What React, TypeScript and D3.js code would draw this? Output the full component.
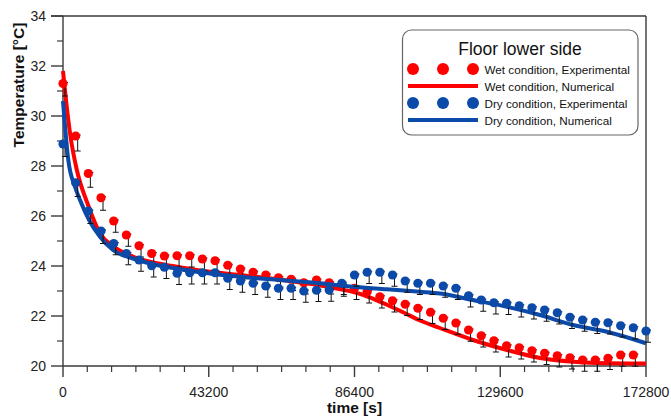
import React from "react";
import * as d3 from "d3";

// time stamps of the experimental readings [s]
const expTimes = [
  0, 3757, 7513, 11270, 15026, 18783, 22539, 26296, 30052, 33809, 37565, 41322,
  45078, 48835, 52591, 56348, 60104, 63861, 67617, 71374, 75130, 78887, 82643,
  86400, 90157, 93913, 97670, 101426, 105183, 108939, 112696, 116452, 120209,
  123965, 127722, 131478, 135235, 138991, 142748, 146504, 150261, 154017,
  157774, 161530, 165287, 169043, 172800,
];

// Wet condition, experimental [°C]
const wetExp = [
  31.3, 29.2, 27.7, 26.73, 25.8, 25.24, 24.81, 24.5, 24.4, 24.41, 24.41, 24.28,
  24.21, 24.03, 23.88, 23.75, 23.64, 23.53, 23.47, 23.33, 23.44, 23.33, 23.24,
  23.11, 22.97, 22.77, 22.61, 22.47, 22.31, 22.15, 21.91, 21.72, 21.44, 21.21,
  21.01, 20.81, 20.73, 20.61, 20.51, 20.41, 20.33, 20.24, 20.24, 20.31, 20.44,
  20.44,
];

// Dry condition, experimental [°C]
const dryExp = [
  28.88, 27.33, 26.2, 25.4, 24.9, 24.5, 24.24, 24.01, 23.95, 23.71, 23.73,
  23.73, 23.73, 23.51, 23.4, 23.31, 23.2, 23.11, 23.11, 23.0, 23.03, 23.04,
  23.31, 23.64, 23.75, 23.75, 23.64, 23.4, 23.31, 23.31, 23.2, 23.11, 22.81,
  22.64, 22.53, 22.51, 22.41, 22.33, 22.24, 22.13, 21.95, 21.84, 21.75, 21.73,
  21.61, 21.53, 21.4,
];

// downward extent of the error bars [°C]
const wetErr = [
  0.5, 0.6, 0.55, 0.5, 0.45, 0.45, 0.45, 0.45, 0.45, 0.45, 0.45, 0.45, 0.45,
  0.45, 0.45, 0.45, 0.45, 0.45, 0.45, 0.45, 0.45, 0.45, 0.45, 0.45, 0.45, 0.45,
  0.45, 0.45, 0.45, 0.45, 0.45, 0.45, 0.45, 0.45, 0.45, 0.45, 0.45, 0.45, 0.45,
  0.45, 0.45, 0.45, 0.45, 0.45, 0.45, 0.45,
];
const dryErr = [
  0.5, 0.55, 0.5, 0.5, 0.45, 0.45, 0.45, 0.45, 0.45, 0.45, 0.45, 0.45, 0.45,
  0.45, 0.45, 0.45, 0.45, 0.45, 0.45, 0.45, 0.45, 0.45, 0.45, 0.45, 0.45, 0.45,
  0.45, 0.45, 0.45, 0.45, 0.45, 0.45, 0.45, 0.45, 0.45, 0.45, 0.45, 0.45, 0.45,
  0.45, 0.45, 0.45, 0.45, 0.45, 0.45, 0.45, 0.45,
];

// Numerical curves: time [s], temperature [°C]
const wetNumT = [
  0, 600, 2200, 4000, 7400, 11000, 14800, 20700, 25800, 32600, 40600, 52500,
  64300, 76200, 88900, 96000, 100800, 105800, 111700, 121500, 131600, 141400,
  151200, 161200, 172800,
];
const wetNumV = [
  31.8, 31.0, 29.2, 27.9, 26.45, 25.3, 24.8, 24.38, 24.17, 24.0, 23.82, 23.64,
  23.45, 23.22, 22.85, 22.45, 22.15, 21.82, 21.52, 21.04, 20.64, 20.32, 20.17,
  20.11, 20.1,
];
const dryNumT = [
  0, 1570, 3557, 5039, 7724, 10967, 14820, 20748, 25787, 33400, 40607, 52463,
  64300, 76175, 85956, 95944, 105814, 111742, 121523, 131600, 141381, 151162,
  161240, 172800,
];
const dryNumV = [
  30.6, 28.24, 27.17, 26.64, 25.84, 25.17, 24.64, 24.3, 24.1, 23.9, 23.75,
  23.57, 23.44, 23.31, 23.17, 23.07, 22.97, 22.9, 22.64, 22.37, 22.04, 21.64,
  21.37, 20.91,
];

const xMajor = [0, 43200, 86400, 129600, 172800];
const xTickLabels = ["0", "43200", "86400", "129600", "172800"];
const yMajor = [20, 22, 24, 26, 28, 30, 32, 34];
const yTickLabels = ["20", "22", "24", "26", "28", "30", "32", "34"];

const legendTitle = "Floor lower side";
const legendLabels = [
  "Wet condition, Experimental",
  "Wet condition, Numerical",
  "Dry condition, Experimental",
  "Dry condition, Numerical",
];

const RED = "#ff0000";
const BLUE = "#0b4aa8";
const AXIS = "#3a3a3a";
const FONT = "'Liberation Sans', Arial, sans-serif";

export default function App() {
  const x = d3.scaleLinear().domain([0, 172800]).range([63, 646]);
  const y = d3.scaleLinear().domain([20, 34]).range([366, 16]);

  const xMinor = d3.range(0, 172801, 7200).filter((v) => !xMajor.includes(v));
  const yMinor = d3.range(21, 34, 2);

  const line = d3
    .line<[number, number]>()
    .x((d) => x(d[0]))
    .y((d) => y(d[1]))
    .curve(d3.curveMonotoneX);

  const wetNum = wetNumT.map((t, i) => [t, wetNumV[i]] as [number, number]);
  const dryNum = dryNumT.map((t, i) => [t, dryNumV[i]] as [number, number]);

  const errBars = (vals: number[], errs: number[], key: string) =>
    vals.map((v, i) => {
      const cx = x(expTimes[i]) + 2;
      const y0 = y(v) - 1;
      const y1 = y(v - errs[i]);
      return (
        <g key={key + i} stroke="#111" strokeWidth={1}>
          <line x1={cx} x2={cx} y1={y0} y2={y1} />
          <line x1={cx - 3} x2={cx + 3} y1={y0} y2={y0} />
          <line x1={cx - 3} x2={cx + 3} y1={y1} y2={y1} />
        </g>
      );
    });

  const dots = (vals: number[], color: string, key: string) =>
    vals.map((v, i) => (
      <circle key={key + i} cx={x(expTimes[i])} cy={y(v)} r={4.6} fill={color} />
    ));

  const lx = 402.5;
  const ly = 30;
  const lw = 235.5;
  const lh = 105;
  const rowY = [69, 86, 103, 120];
  const textBase = [73.5, 90.5, 107.5, 124.5];

  return (
    <svg
      width={671}
      height={418}
      style={{ position: "absolute", left: 0, top: 0, background: "#fff" }}
      fontFamily={FONT}
    >
      <rect x={0} y={0} width={671} height={418} fill="#fff" />

      {/* frame */}
      <line x1={x(0) - 12} x2={x(172800)} y1={y(34)} y2={y(34)} stroke={AXIS} strokeWidth={1.4} />
      <line x1={x(172800)} x2={x(172800)} y1={y(34)} y2={y(20)} stroke={AXIS} strokeWidth={1.4} />
      <line x1={x(0)} x2={x(0)} y1={y(34)} y2={y(20)} stroke={AXIS} strokeWidth={1.4} />
      <line x1={x(0)} x2={x(172800)} y1={y(20)} y2={y(20)} stroke={AXIS} strokeWidth={1.4} />

      {/* x ticks */}
      {xMajor.map((v, i) => (
        <g key={"xm" + i}>
          <line x1={x(v)} x2={x(v)} y1={y(20)} y2={y(20) + 11} stroke={AXIS} strokeWidth={1.4} />
          <text x={x(v)} y={397} textAnchor="middle" fontSize={14} fill="#222">
            {xTickLabels[i]}
          </text>
        </g>
      ))}
      {xMinor.map((v, i) => (
        <line key={"xn" + i} x1={x(v)} x2={x(v)} y1={y(20)} y2={y(20) + 6} stroke={AXIS} strokeWidth={1.2} />
      ))}

      {/* y ticks */}
      {yMajor.map((v, i) => (
        <g key={"ym" + i}>
          <line x1={x(0) - 12} x2={x(0)} y1={y(v)} y2={y(v)} stroke={AXIS} strokeWidth={1.4} />
          <text x={46} y={y(v) + 5} textAnchor="end" fontSize={14} fill="#222">
            {yTickLabels[i]}
          </text>
        </g>
      ))}
      {yMinor.map((v, i) => (
        <line key={"yn" + i} x1={x(0) - 6} x2={x(0)} y1={y(v)} y2={y(v)} stroke={AXIS} strokeWidth={1.2} />
      ))}

      {/* axis titles */}
      <text
        transform="translate(24,85) rotate(-90)"
        textAnchor="middle"
        fontSize={15.5}
        fontWeight="bold"
        fill="#111"
      >
        Temperature [°C]
      </text>
      <text x={354.5} y={412.5} textAnchor="middle" fontSize={15.5} fontWeight="bold" fill="#111">
        time [s]
      </text>

      {/* series */}
      <path d={line(wetNum) || ""} fill="none" stroke={RED} strokeWidth={4} strokeLinejoin="round" />
      {errBars(wetExp, wetErr, "we")}
      {dots(wetExp, RED, "wd")}
      <path d={line(dryNum) || ""} fill="none" stroke={BLUE} strokeWidth={4} strokeLinejoin="round" />
      {errBars(dryExp, dryErr, "de")}
      {dots(dryExp, BLUE, "dd")}

      {/* legend */}
      <rect x={lx} y={ly} width={lw} height={lh} rx={9} fill="#fff" stroke="#666" strokeWidth={1.2} />
      <text x={520} y={55} textAnchor="middle" fontSize={17.5} fill="#111">
        {legendTitle}
      </text>
      {[413, 443, 473].map((cx, i) => (
        <circle key={"lr" + i} cx={cx} cy={rowY[0]} r={6} fill={RED} />
      ))}
      <line x1={408} x2={478} y1={rowY[1]} y2={rowY[1]} stroke={RED} strokeWidth={4} />
      {[413, 443, 473].map((cx, i) => (
        <circle key={"lb" + i} cx={cx} cy={rowY[2]} r={6} fill={BLUE} />
      ))}
      <line x1={408} x2={478} y1={rowY[3]} y2={rowY[3]} stroke={BLUE} strokeWidth={4} />
      {legendLabels.map((s, i) => (
        <text key={"lt" + i} x={484.5} y={textBase[i]} fontSize={11.7} fill="#111">
          {s}
        </text>
      ))}
    </svg>
  );
}
